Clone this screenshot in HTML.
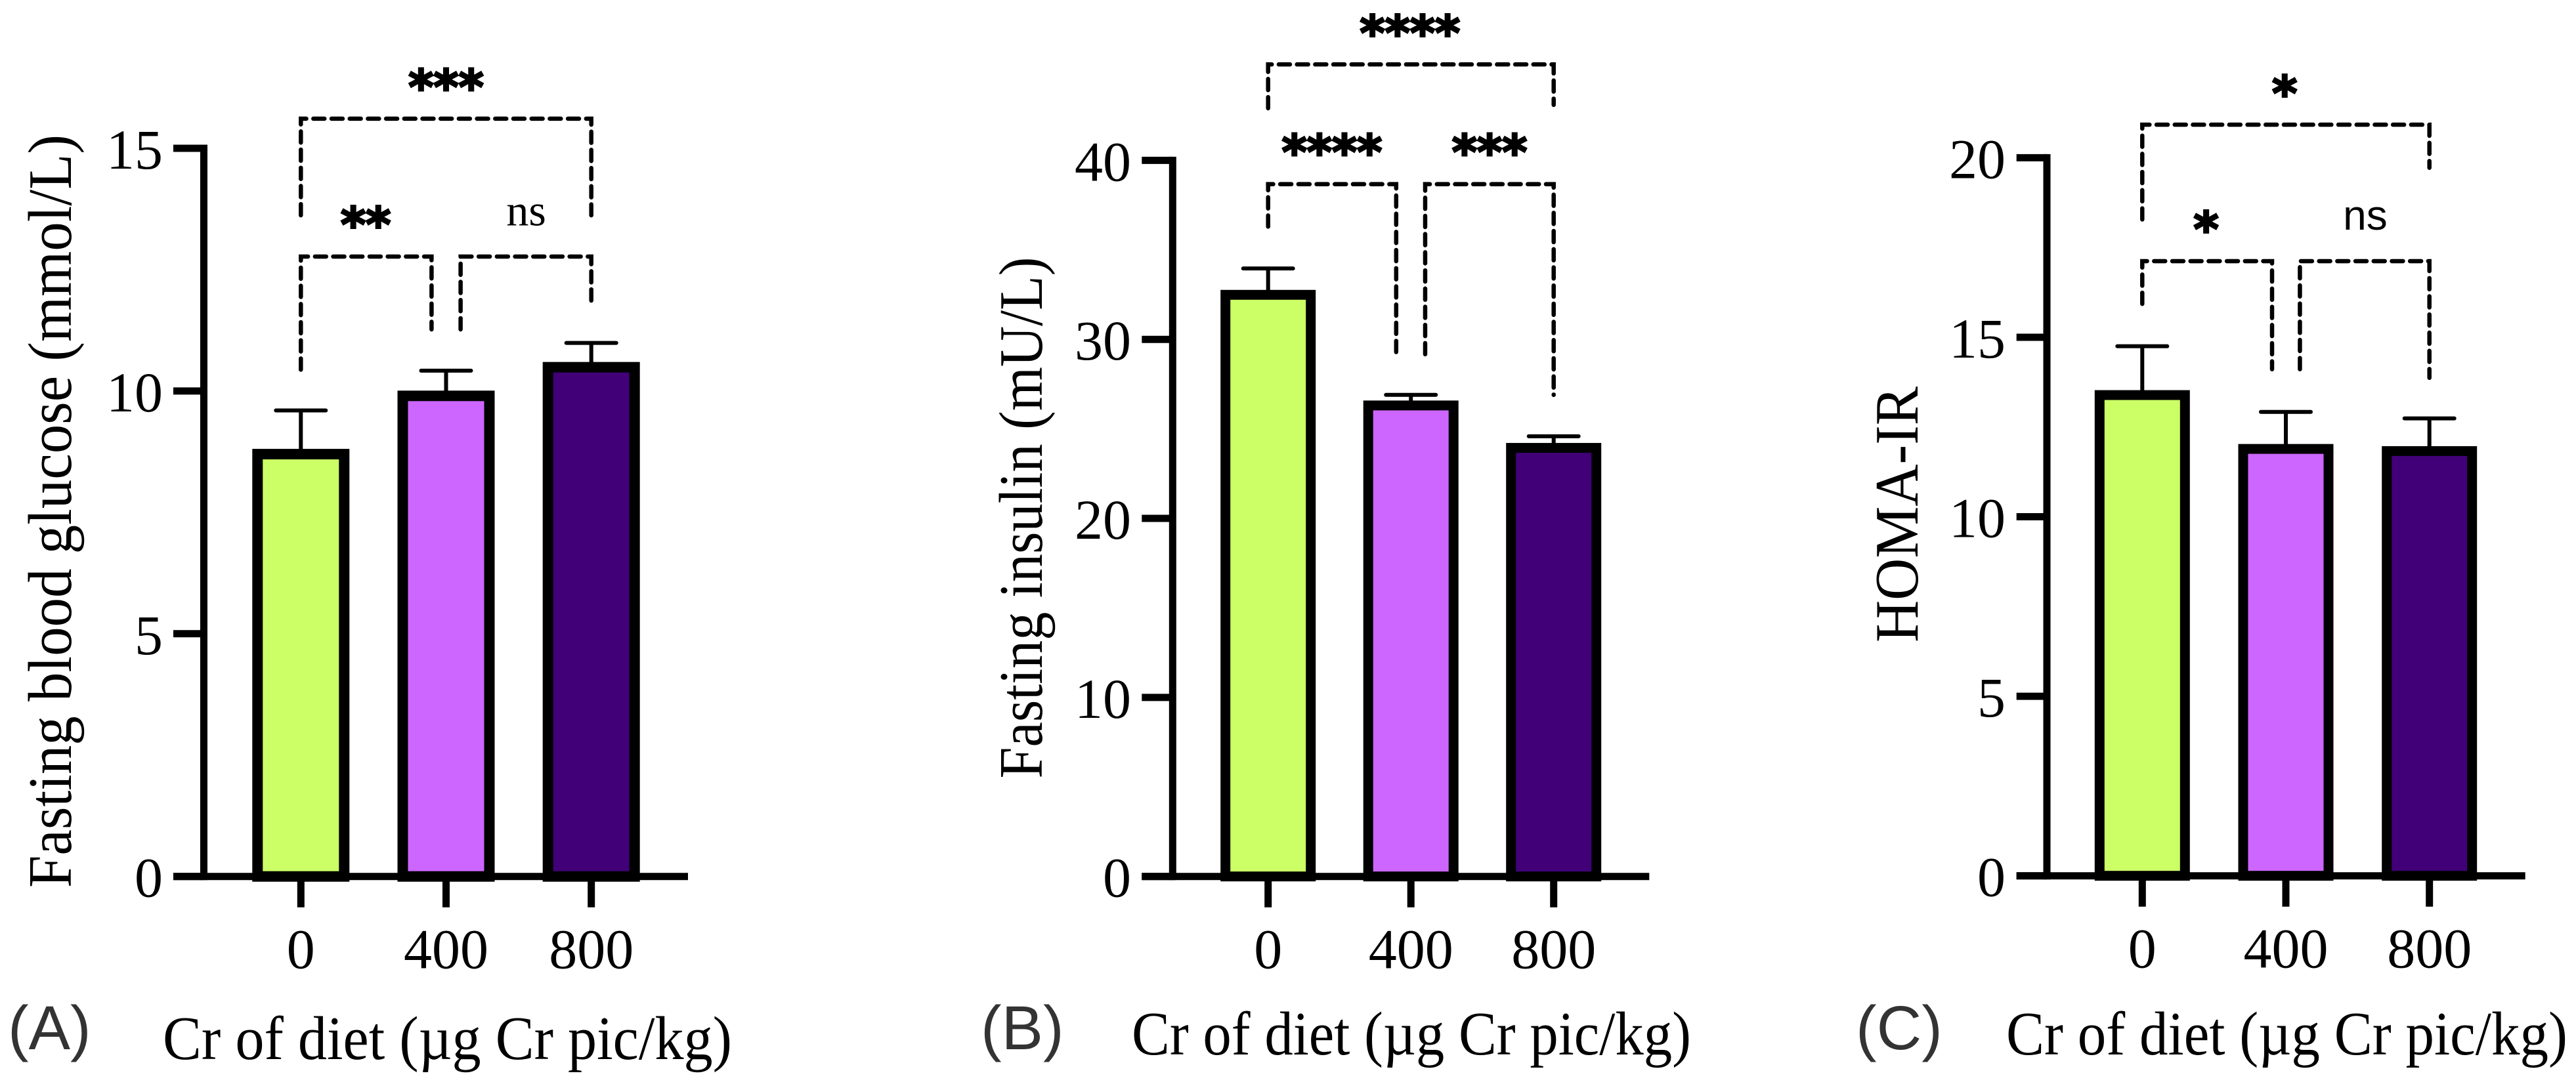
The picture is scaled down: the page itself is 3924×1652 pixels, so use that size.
<!DOCTYPE html>
<html lang="en">
<head>
<meta charset="utf-8">
<title>Fasting glucose, insulin and HOMA-IR by dietary Cr</title>
<style>
  html, body { margin: 0; padding: 0; background: #fff; }
  svg { display: block; }
  .serif { font-family: "Liberation Serif", serif; fill: #000; }
  .sans { font-family: "Liberation Sans", sans-serif; }
  .stars { font-family: "DejaVu Sans", sans-serif; font-weight: bold; fill: #000; stroke: #000; stroke-width: 3px; }
  .panel-letter { font-family: "Liberation Sans", sans-serif; font-size: 95px; fill: #333; }
</style>
</head>
<body>
<svg id="figure" xmlns="http://www.w3.org/2000/svg" width="3924" height="1652" viewBox="0 0 3924 1652">
  <rect x="0" y="0" width="3924" height="1652" fill="#ffffff"/>
  <g id="panel-a">
    <text class="serif" font-size="94" text-anchor="middle" textLength="1148" lengthAdjust="spacingAndGlyphs" transform="translate(108 779) rotate(-90)">Fasting blood glucose (mmol/L)</text>
    <text class="serif" font-size="94" textLength="867" lengthAdjust="spacingAndGlyphs" x="248" y="1614">Cr of diet (µg Cr pic/kg)</text>
    <text class="panel-letter" x="12" y="1599">(A)</text>
  </g>
  <g id="panel-b">
    <text class="serif" font-size="94" text-anchor="middle" textLength="795" lengthAdjust="spacingAndGlyphs" transform="translate(1587 789) rotate(-90)">Fasting insulin (mU/L)</text>
    <text class="serif" font-size="94" textLength="852" lengthAdjust="spacingAndGlyphs" x="1724" y="1607">Cr of diet (µg Cr pic/kg)</text>
    <text class="panel-letter" x="1494" y="1599">(B)</text>
  </g>
  <g id="panel-c">
    <text class="serif" font-size="94" text-anchor="middle" textLength="390" lengthAdjust="spacingAndGlyphs" transform="translate(2921 784) rotate(-90)">HOMA-IR</text>
    <text class="serif" font-size="94" textLength="855" lengthAdjust="spacingAndGlyphs" x="3056" y="1607">Cr of diet (µg Cr pic/kg)</text>
    <text class="panel-letter" x="2827" y="1599">(C)</text>
  </g>
</svg>
<script>
const categories = ['0', '400', '800'];
const barColors = ['#ccff66', '#cc66ff', '#410078'];

const panelATicks = [0, 5, 10, 15];
const panelAValues = [8.7, 9.9, 10.49];
const panelAErrors = [0.9, 0.52, 0.5];
const panelBTicks = [0, 10, 20, 30, 40];
const panelBValues = [32.49, 26.31, 23.94];
const panelBErrors = [1.47, 0.59, 0.65];
const panelCTicks = [0, 5, 10, 15, 20];
const panelCValues = [13.39, 11.89, 11.83];
const panelCErrors = [1.36, 1.03, 0.91];

/* Brackets: [left category pos, right category pos, bracket level, left leg end, right leg end] */
const panelABrackets = [
  [0, 2, 15.61, 13.62, 13.62],
  [0, 0.9, 12.77, 10.44, 11.27],
  [1.1, 2, 12.77, 11.27, 11.84]
];
const panelBBrackets = [
  [0, 2, 45.36, 42.91, 43.1],
  [0, 0.897, 38.67, 36.3, 29.17],
  [1.1, 2, 38.67, 29.17, 26.9]
];
const panelCBrackets = [
  [0, 2, 20.92, 18.28, 19.72],
  [0, 0.904, 17.12, 15.93, 14.11],
  [1.098, 2, 17.12, 14.11, 13.87]
];

/* Significance marks: [text, category pos, value level] */
const panelAMarks = [['***', 1, 16.4], ['**', 0.447, 13.57], ['ns', 1.552, 13.41]];
const panelBMarks = [['****', 0.994, 47.5], ['****', 0.447, 40.84], ['***', 1.551, 40.84]];
const panelCMarks = [['*', 0.992, 21.98], ['*', 0.445, 18.2], ['ns', 1.553, 18.0]];

const SVG_NS = 'http://www.w3.org/2000/svg';

function mk(parent, tag, attrs, text) {
  const el = document.createElementNS(SVG_NS, tag);
  for (const k in attrs) el.setAttribute(k, attrs[k]);
  if (text !== undefined) el.textContent = text;
  parent.appendChild(el);
  return el;
}

function drawPanel(groupId, prefix, cfg, ticks, values, errors, brackets, marks) {
  const g = document.getElementById(groupId);
  const maxTick = ticks[ticks.length - 1];
  const yScale = v => cfg.zeroY - (cfg.zeroY - cfg.topY) * v / maxTick;
  const xScale = p => cfg.firstX + cfg.stepX * p;

  /* bars and error bars */
  values.forEach((v, i) => {
    const cx = xScale(i);
    const stem = mk(g, 'line', { x1: cx, x2: cx, y1: yScale(v), y2: yScale(v + errors[i]), stroke: '#000', 'stroke-width': 6 });
    
    
    const cap = mk(g, 'line', { x1: cx - 38, x2: cx + 38, y1: yScale(v + errors[i]), y2: yScale(v + errors[i]), stroke: '#000', 'stroke-width': 6, 'stroke-linecap': 'round' });
    
    
    const half = (cfg.barOuter - cfg.barStroke) / 2;
    const bar = mk(g, 'rect', { x: cx - half, y: yScale(v), width: half * 2, height: cfg.zeroY - yScale(v), fill: barColors[i], stroke: '#000', 'stroke-width': cfg.barStroke });
    
    
  });

  /* y axis */
  const spine = mk(g, 'line', { x1: cfg.spineX, x2: cfg.spineX, y1: yScale(maxTick) - 5.5, y2: cfg.zeroY + 5.5, stroke: '#000', 'stroke-width': 11 });
  
  
  ticks.forEach(t => {
    const y = yScale(t);
    const tick = mk(g, 'line', { x1: cfg.tickLeft, x2: cfg.spineX, y1: y, y2: y, stroke: '#000', 'stroke-width': 11 });
    
    
    const label = mk(g, 'text', { x: cfg.labelRight, y: y + 31, 'text-anchor': 'end', 'font-size': 86, class: 'serif' }, String(t));
    
    
  });

  /* x axis */
  const base = mk(g, 'line', { x1: cfg.tickLeft, x2: cfg.axisRight, y1: cfg.zeroY, y2: cfg.zeroY, stroke: '#000', 'stroke-width': 11 });
  
  
  categories.forEach((c, i) => {
    const x = xScale(i);
    const tick = mk(g, 'line', { x1: x, x2: x, y1: cfg.zeroY, y2: cfg.zeroY + 47, stroke: '#000', 'stroke-width': 11 });
    
    
    const label = mk(g, 'text', { x: x, y: cfg.zeroY + 140, 'text-anchor': 'middle', 'font-size': 86, class: 'serif' }, c);
    
    
  });

  /* significance brackets */
  brackets.forEach((b, i) => {
    const d = 'M' + xScale(b[0]) + ' ' + yScale(b[3]) + ' V' + yScale(b[2]) + ' H' + xScale(b[1]) + ' V' + yScale(b[4]);
    const path = mk(g, 'path', { d: d, fill: 'none', stroke: '#000', 'stroke-width': 6.5, 'stroke-dasharray': '17 10.7', 'stroke-linecap': 'round' });
    
    
  });

  /* significance labels */
  marks.forEach((m, i) => {
    let label;
    if (m[0] === 'ns') {
      label = mk(g, 'text', { x: xScale(m[1]), y: yScale(m[2]), 'text-anchor': 'middle', 'font-size': cfg.nsSize, class: cfg.nsClass, fill: '#000' }, m[0]);
    } else {
      label = mk(g, 'text', { x: xScale(m[1]), y: yScale(m[2]) + 36, 'text-anchor': 'middle', 'font-size': 73, class: 'stars' }, m[0]);
    }
    
    
  });
}

drawPanel('panel-a', 'panel-a',
  { zeroY: 1335.7, topY: 226, firstX: 458.3, stepX: 221.2, spineX: 310.5, tickLeft: 264, axisRight: 1048, labelRight: 248, barOuter: 148, barStroke: 16, nsSize: 68, nsClass: 'serif' },
  panelATicks, panelAValues, panelAErrors, panelABrackets, panelAMarks);

drawPanel('panel-b', 'panel-b',
  { zeroY: 1335.7, topY: 244.4, firstX: 1931.7, stepX: 217.5, spineX: 1786.3, tickLeft: 1739.3, axisRight: 2512.3, labelRight: 1723, barOuter: 145, barStroke: 15, nsSize: 68, nsClass: 'serif' },
  panelBTicks, panelBValues, panelBErrors, panelBBrackets, panelBMarks);

drawPanel('panel-c', 'panel-c',
  { zeroY: 1334.7, topY: 240.4, firstX: 3263.3, stepX: 218.7, spineX: 3118, tickLeft: 3071.7, axisRight: 3846.7, labelRight: 3055, barOuter: 145, barStroke: 15, nsSize: 64, nsClass: 'sans' },
  panelCTicks, panelCValues, panelCErrors, panelCBrackets, panelCMarks);
</script>
</body>
</html>
